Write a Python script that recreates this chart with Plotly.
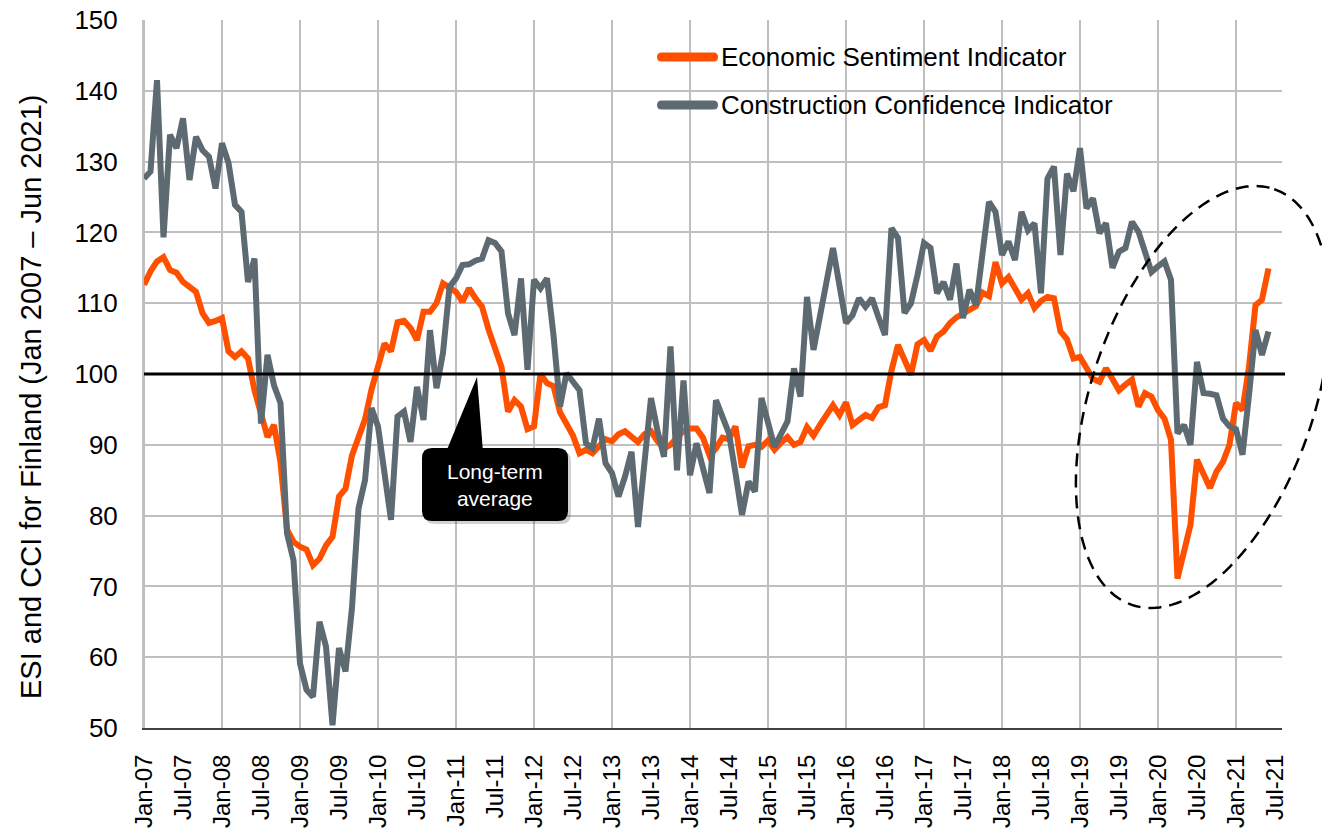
import math
import plotly.graph_objects as go

# ---------------- data (monthly, Jan 2007 - Jun 2021) ----------------
esi = [
    112.6, 114.5, 115.9, 116.5, 114.7, 114.3, 113.0, 112.2, 111.6, 108.6, 107.2, 107.5,
    107.9, 103.2, 102.4, 103.2, 102.2, 97.7, 94.5, 91.1, 92.8, 87.5, 78.0, 76.3,
    75.6, 75.2, 73.0, 73.9, 75.8, 77.0, 82.7, 83.8, 88.5, 90.8, 93.6, 97.8,
    101.0, 104.3, 103.2, 107.3, 107.5, 106.5, 104.8, 108.8, 108.8, 110.0, 112.8, 112.1,
    111.6, 110.2, 112.1, 110.7, 109.5, 106.3, 103.8, 101.0, 94.7, 96.3, 95.4, 92.2,
    92.6, 100.0, 98.7, 98.3, 94.6, 92.8, 91.3, 88.8, 89.3, 88.8, 89.8, 90.8,
    90.5, 91.5, 91.9, 91.2, 90.4, 91.5, 91.9, 90.5, 89.5, 90.0, 91.0, 92.0,
    92.3, 92.3, 91.0, 88.5, 89.5, 91.0, 90.8, 92.6, 86.8, 89.8, 90.0, 89.7,
    90.6, 89.3, 90.3, 91.1, 90.0, 90.4, 92.5, 91.3, 92.8, 94.2, 95.6, 94.2,
    96.0, 92.8, 93.5, 94.2, 93.8, 95.3, 95.6, 100.5, 104.1, 102.0, 99.9, 104.2,
    104.8, 103.3, 105.3, 106.0, 107.2, 108.0, 108.6, 109.0, 109.6, 111.5, 111.0, 115.8,
    112.8, 113.7, 112.0, 110.5, 111.4, 109.3, 110.3, 110.9, 110.7, 106.0, 104.9, 102.2,
    102.4, 100.8, 99.3, 98.9, 100.8, 99.3, 97.7, 98.5, 99.2, 95.4, 97.3, 96.8,
    94.9, 93.7, 90.7, 71.1, 75.0, 78.7, 87.9, 86.0, 83.9, 86.2, 87.6, 90.0,
    95.9, 94.9, 101.0, 109.7, 110.5, 114.9,
]

cci = [
    127.6, 128.6, 141.5, 119.3, 133.8, 131.9, 136.1, 127.4, 133.5, 131.6, 130.7, 126.2,
    132.6, 129.8, 123.9, 122.9, 113.0, 116.3, 93.0, 102.7, 98.4, 95.9, 77.5, 73.7,
    59.1, 55.4, 54.4, 65.0, 61.5, 50.4, 61.3, 58.0, 67.0, 81.0, 85.0, 95.2,
    92.6, 86.0, 79.4, 94.0, 94.7, 90.4, 98.2, 93.5, 106.2, 98.0, 103.0, 112.3,
    113.5, 115.4, 115.5, 116.0, 116.3, 118.9, 118.5, 117.3, 108.6, 105.5, 113.5, 100.6,
    113.3, 112.1, 113.5, 105.5, 95.4, 100.1, 99.0, 97.7, 90.2, 89.5, 93.7, 87.4,
    86.0, 82.7, 85.5, 89.0, 78.4, 88.0, 96.6, 92.0, 88.3, 103.9, 86.4, 99.1,
    85.7, 90.2, 87.0, 83.2, 96.3, 94.0, 91.6, 86.0, 80.1, 84.8, 83.4, 96.6,
    93.0, 89.7, 91.5, 93.3, 100.8, 96.8, 110.9, 103.4, 108.2, 113.0, 117.8, 112.5,
    107.2, 108.3, 110.7, 109.5, 110.7, 108.0, 105.5, 120.6, 119.2, 108.6, 110.0, 114.0,
    118.5, 117.8, 111.4, 113.0, 110.5, 115.6, 107.9, 111.9, 109.7, 117.0, 124.3, 122.9,
    116.8, 118.7, 116.1, 122.9, 120.3, 121.3, 111.4, 127.6, 129.3, 116.8, 128.3, 125.8,
    131.9, 123.4, 124.8, 119.9, 121.3, 115.0, 117.3, 117.8, 121.5, 120.1, 117.0, 114.4,
    115.2, 115.9, 113.3, 91.6, 92.8, 90.0, 101.7, 97.3, 97.2, 97.0, 93.7, 92.6,
    92.2, 88.6, 97.0, 106.2, 102.7, 106.0,
]

month_index = list(range(len(esi)))          # 0 = Jan 2007

tick_positions = list(range(0, 175, 6))
tick_labels = [
    "Jan-07", "Jul-07", "Jan-08", "Jul-08", "Jan-09", "Jul-09", "Jan-10", "Jul-10",
    "Jan-11", "Jul-11", "Jan-12", "Jul-12", "Jan-13", "Jul-13", "Jan-14", "Jul-14",
    "Jan-15", "Jul-15", "Jan-16", "Jul-16", "Jan-17", "Jul-17", "Jan-18", "Jul-18",
    "Jan-19", "Jul-19", "Jan-20", "Jul-20", "Jan-21", "Jul-21",
]
year_grid = list(range(0, 169, 12))
long_term_average = 100

series_names = ["Economic Sentiment Indicator", "Construction Confidence Indicator"]
y_title = "ESI and CCI for Finland (Jan 2007 \u2013 Jun 2021)"
ORANGE = "#FF5000"
GREY = "#5E6A71"
GRID = "#BFBFBF"
FONT = "Liberation Sans, Arial, sans-serif"

# ---------------- geometry (page pixels; page body has an 8px margin) ----------------
BODY = 8
W, H = 1330 - BODY, 828 - BODY
PLOT_L, PLOT_R, PLOT_T, PLOT_B = 144, 1282, 20, 728      # plot area in page pixels
ML, MT = PLOT_L - BODY, PLOT_T - BODY
MR = W - (PLOT_R - BODY)
MB = H - (PLOT_B - BODY)
PW, PH = PLOT_R - PLOT_L, PLOT_B - PLOT_T


def px(x):
    return (x - PLOT_L) / PW


def py(y):
    return (PLOT_B - y) / PH


def rounded_rect_path(x0, y0, x1, y1, r):
    pts = [
        f"M {px(x0 + r)},{py(y0)}",
        f"L {px(x1 - r)},{py(y0)}",
        f"Q {px(x1)},{py(y0)} {px(x1)},{py(y0 + r)}",
        f"L {px(x1)},{py(y1 - r)}",
        f"Q {px(x1)},{py(y1)} {px(x1 - r)},{py(y1)}",
        f"L {px(x0 + r)},{py(y1)}",
        f"Q {px(x0)},{py(y1)} {px(x0)},{py(y1 - r)}",
        f"L {px(x0)},{py(y0 + r)}",
        f"Q {px(x0)},{py(y0)} {px(x0 + r)},{py(y0)}",
        "Z",
    ]
    return " ".join(pts)


fig = go.Figure()

fig.add_trace(go.Scatter(
    x=month_index, y=esi, mode="lines", name=series_names[0],
    line=dict(color=ORANGE, width=6),
))
fig.add_trace(go.Scatter(
    x=month_index, y=cci, mode="lines", name=series_names[1],
    line=dict(color=GREY, width=6),
))

shapes = []
# yearly vertical gridlines
for m in year_grid:
    shapes.append(dict(type="line", xref="x", yref="paper", x0=m, x1=m, y0=0, y1=1,
                       line=dict(color=GRID, width=2), layer="below"))

# long-term average line
shapes.append(dict(type="line", xref="paper", yref="y", x0=0, x1=px(1285),
                   y0=long_term_average, y1=long_term_average,
                   line=dict(color="black", width=3), layer="above"))

# callout: shadow, box and pointer
shapes.append(dict(type="path", xref="paper", yref="paper",
                   path=rounded_rect_path(425, 451, 571, 524, 10),
                   fillcolor="rgba(0,0,0,0.18)", line=dict(width=0), layer="above"))
shapes.append(dict(type="path", xref="paper", yref="paper",
                   path=rounded_rect_path(422, 448, 568, 521, 10),
                   fillcolor="black", line=dict(width=0), layer="above"))
shapes.append(dict(type="path", xref="paper", yref="paper",
                   path=f"M {px(477)},{py(377)} L {px(446)},{py(452)} L {px(483)},{py(452)} Z",
                   fillcolor="black", line=dict(width=0), layer="above"))

# dashed ellipse highlighting 2019-2021
cx, cy, a, b, phi = 1203, 397, 219.7, 111.3, math.radians(18.9)
ux, uy = math.sin(phi), -math.cos(phi)
vx, vy = math.cos(phi), math.sin(phi)
pts = []
for k in range(181):
    t = 2 * math.pi * k / 180
    ex = cx + a * math.cos(t) * ux + b * math.sin(t) * vx
    ey = cy + a * math.cos(t) * uy + b * math.sin(t) * vy
    pts.append(f"{'M' if k == 0 else 'L'} {px(ex)},{py(ey)}")
shapes.append(dict(type="path", xref="paper", yref="paper", path=" ".join(pts) + " Z",
                   line=dict(color="black", width=2.5, dash="13px,8px"), layer="above"))

# legend swatches
for yc, col in [(57, ORANGE), (105, GREY)]:
    shapes.append(dict(type="path", xref="paper", yref="paper",
                       path=rounded_rect_path(657, yc - 4.5, 718, yc + 4.5, 4.5),
                       fillcolor=col, line=dict(width=0), layer="above"))

annotations = [
    dict(xref="paper", yref="paper", x=px(719), y=py(57), xanchor="left", yanchor="middle",
         text=series_names[0], showarrow=False, font=dict(size=26, color="black", family=FONT)),
    dict(xref="paper", yref="paper", x=px(719), y=py(105), xanchor="left", yanchor="middle",
         text=series_names[1], showarrow=False, font=dict(size=26, color="black", family=FONT)),
    dict(xref="paper", yref="paper", x=px(495), y=py(485), xanchor="center", yanchor="middle",
         text="Long-term<br>average", showarrow=False, align="center",
         font=dict(size=21, color="white", family=FONT)),
    # y-axis title
    dict(xref="paper", yref="paper", x=px(31), y=py(397), xanchor="center", yanchor="middle",
         text=y_title, textangle=-90, showarrow=False,
         font=dict(size=29, color="black", family=FONT)),
]

fig.update_layout(
    width=W, height=H,
    margin=dict(l=ML, r=MR, t=MT, b=MB, autoexpand=False),
    plot_bgcolor="white", paper_bgcolor="white",
    showlegend=False,
    font=dict(family=FONT, color="black"),
    shapes=shapes,
    annotations=annotations,
    xaxis=dict(
        range=[0, 175.08], tickmode="array", tickvals=tick_positions, ticktext=tick_labels,
        tickangle=-90, showgrid=False, zeroline=False, ticks="",
        showline=True, linecolor="#404040", linewidth=2,
        tickfont=dict(size=24, color="black"), ticklabelstandoff=15,
        ticklabeloverflow="allow", automargin=False,
    ),
    yaxis=dict(
        range=[50, 150], dtick=10, tick0=50, showgrid=True, gridcolor=GRID, gridwidth=2,
        zeroline=False, ticks="", showline=True, linecolor=GRID, linewidth=2,
        tickfont=dict(size=26, color="black"), ticklabelstandoff=19,
        ticklabeloverflow="allow", automargin=False,
    ),
)

fig.write_html("out.html")
